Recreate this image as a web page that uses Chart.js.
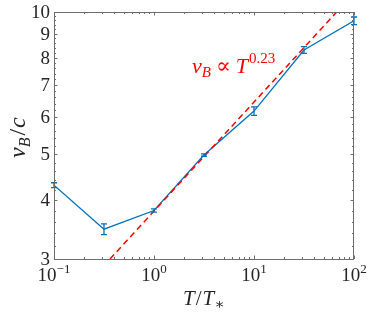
<!DOCTYPE html>
<html lang="en">
  <head>
    <meta charset="UTF-8" />
    <title>vB vs T</title>
    <script src="https://cdn.jsdelivr.net/npm/chart.js"></script>
    <style>
      html, body { margin: 0; padding: 0; background: #fff; }
      #wrap { width: 374px; height: 312px; }
    </style>
  </head>
  <body>
    <div id="wrap"><canvas id="vbChart" width="374" height="312"></canvas></div>

    <script>
      // data
      var tValues = [0.1, 0.316, 1, 3.16, 10, 31.6, 100];
      var vbValues = [4.30, 3.47, 3.80, 4.98, 6.17, 8.31, 9.58];
      var vbErrors = [0.05, 0.09, 0.03, 0.03, 0.13, 0.14, 0.18];

      // power-law guide v_B ~ T^0.23 (end points where it leaves the box)
      var fitT = [0.363, 67.1];
      var fitVb = [3, 10];

      var xTickValues = [0.1, 1, 10, 100];
      var xTickExponents = ["\u22121", "0", "1", "2"];
      var yTickLabels = [3, 4, 5, 6, 7, 8, 9, 10];

      var blue = "#0072BD";
      var red = "#FF0000";
      var axisColor = "#6e6e6e";
      var serif = '"Liberation Serif", "DejaVu Serif", serif';

      // error bars
      var errorBars = {
        id: "errorBars",
        afterDatasetsDraw: function (chart) {
          var ctx = chart.ctx, x = chart.scales.x, y = chart.scales.y;
          ctx.save();
          ctx.strokeStyle = blue;
          ctx.lineWidth = 1.3;
          for (var i = 0; i < tValues.length; i++) {
            var px = x.getPixelForValue(tValues[i]);
            var top = y.getPixelForValue(vbValues[i] + vbErrors[i]);
            var bot = y.getPixelForValue(vbValues[i] - vbErrors[i]);
            ctx.beginPath();
            ctx.moveTo(px, top); ctx.lineTo(px, bot);
            ctx.moveTo(px - 3, top); ctx.lineTo(px + 3, top);
            ctx.moveTo(px - 3, bot); ctx.lineTo(px + 3, bot);
            ctx.stroke();
          }
          ctx.restore();
        },
      };

      // box, inward ticks, labels and titles (matlab look)
      var frame = {
        id: "frame",
        afterDraw: function (chart) {
          var ctx = chart.ctx, a = chart.chartArea;
          var x = chart.scales.x, y = chart.scales.y;
          ctx.save();
          ctx.strokeStyle = axisColor;
          ctx.lineWidth = 1;
          ctx.strokeRect(a.left + 0.5, a.top + 0.5, a.right - a.left - 1, a.bottom - a.top);

          ctx.beginPath();
          // x ticks: decades and 2..9 in between
          for (var d = -1; d <= 2; d++) {
            for (var m = 1; m <= 9; m++) {
              var v = m * Math.pow(10, d);
              if (v > 100.0001) break;
              var px = Math.round(x.getPixelForValue(v)) + 0.5;
              var len = m === 1 ? 3.5 : 2;
              ctx.moveTo(px, a.bottom); ctx.lineTo(px, a.bottom - len);
              ctx.moveTo(px, a.top); ctx.lineTo(px, a.top + len);
            }
          }
          // y ticks every 0.2
          for (var k = 0; k <= 35; k++) {
            var yv = 3 + k * 0.2;
            var py = Math.round(y.getPixelForValue(yv)) + 0.5;
            var ylen = k % 5 === 0 ? 3.5 : 2;
            ctx.moveTo(a.left, py); ctx.lineTo(a.left + ylen, py);
            ctx.moveTo(a.right, py); ctx.lineTo(a.right - ylen, py);
          }
          ctx.stroke();

          ctx.fillStyle = "#262626";
          // y tick labels
          ctx.font = "19px " + serif;
          ctx.textAlign = "right";
          ctx.textBaseline = "middle";
          yTickLabels.forEach(function (t) {
            ctx.fillText(String(t), a.left - 4, y.getPixelForValue(t) + 1);
          });

          // x tick labels 10^n
          ctx.textBaseline = "alphabetic";
          ctx.textAlign = "left";
          xTickValues.forEach(function (t, i) {
            var px = x.getPixelForValue(t);
            ctx.font = "19px " + serif;
            var wb = ctx.measureText("10").width;
            ctx.font = "13px " + serif;
            var we = ctx.measureText(xTickExponents[i]).width;
            var x0 = px - (wb + we) / 2;
            ctx.font = "19px " + serif;
            ctx.fillText("10", x0, a.bottom + 22);
            ctx.font = "13px " + serif;
            ctx.fillText(xTickExponents[i], x0 + wb, a.bottom + 14);
          });

          // x title T/T_*
          ctx.font = "italic 21px " + serif;
          var xs = 183, yb = 305;
          ctx.fillText("T", xs, yb);
          xs += ctx.measureText("T").width + 1;
          ctx.font = "21px " + serif;
          ctx.fillText("/", xs, yb);
          xs += ctx.measureText("/").width + 1;
          ctx.font = "italic 21px " + serif;
          ctx.fillText("T", xs, yb);
          xs += ctx.measureText("T").width;
          ctx.font = "15px " + serif;
          ctx.fillText("\u2217", xs, yb + 4);

          // y title v_B/c
          ctx.save();
          ctx.translate(25, 158);
          ctx.rotate(-Math.PI / 2);
          var ys = 0;
          ctx.font = "italic 24px " + serif;
          ctx.fillText("v", ys, 0);
          ys += ctx.measureText("v").width;
          ctx.font = "italic 16px " + serif;
          ctx.fillText("B", ys, 5);
          ys += ctx.measureText("B").width + 2;
          ctx.font = "24px " + serif;
          ctx.fillText("/", ys, 0);
          ys += ctx.measureText("/").width + 1;
          ctx.font = "italic 24px " + serif;
          ctx.fillText("c", ys, 0);
          ctx.restore();

          // annotation v_B ∝ T^0.23
          ctx.fillStyle = red;
          var ax = 192, ab = 73;
          ctx.font = "italic 22px " + serif;
          ctx.fillText("v", ax, ab);
          ax += ctx.measureText("v").width;
          ctx.font = "italic 15px " + serif;
          ctx.fillText("B", ax, ab + 4);
          ax += ctx.measureText("B").width + 5;
          ctx.font = "22px " + serif;
          ctx.fillText("\u221D", ax, ab);
          ax += ctx.measureText("\u221D").width + 5;
          ctx.font = "italic 22px " + serif;
          ctx.fillText("T", ax, ab);
          ax += ctx.measureText("T").width + 1;
          ctx.font = "15px " + serif;
          ctx.fillText("0.23", ax, ab - 10);

          ctx.restore();
        },
      };

      new Chart(document.getElementById("vbChart").getContext("2d"), {
        type: "line",
        data: {
          datasets: [
            {
              label: "fit",
              data: fitT.map(function (t, i) { return { x: t, y: fitVb[i] }; }),
              borderColor: red,
              borderWidth: 1.5,
              borderDash: [6, 4],
              pointRadius: 0,
              fill: false,
            },
            {
              label: "vB",
              data: tValues.map(function (t, i) { return { x: t, y: vbValues[i] }; }),
              borderColor: blue,
              borderWidth: 1.3,
              pointRadius: 0,
              tension: 0,
              fill: false,
            },
          ],
        },
        options: {
          responsive: false,
          animation: false,
          layout: { padding: { left: 54, right: 20, top: 12, bottom: 53 } },
          plugins: { legend: { display: false }, tooltip: { enabled: false } },
          scales: {
            x: { type: "logarithmic", min: 0.1, max: 100, display: false },
            y: { type: "logarithmic", min: 3, max: 10, display: false },
          },
        },
        plugins: [errorBars, frame],
      });
    </script>
  </body>
</html>
